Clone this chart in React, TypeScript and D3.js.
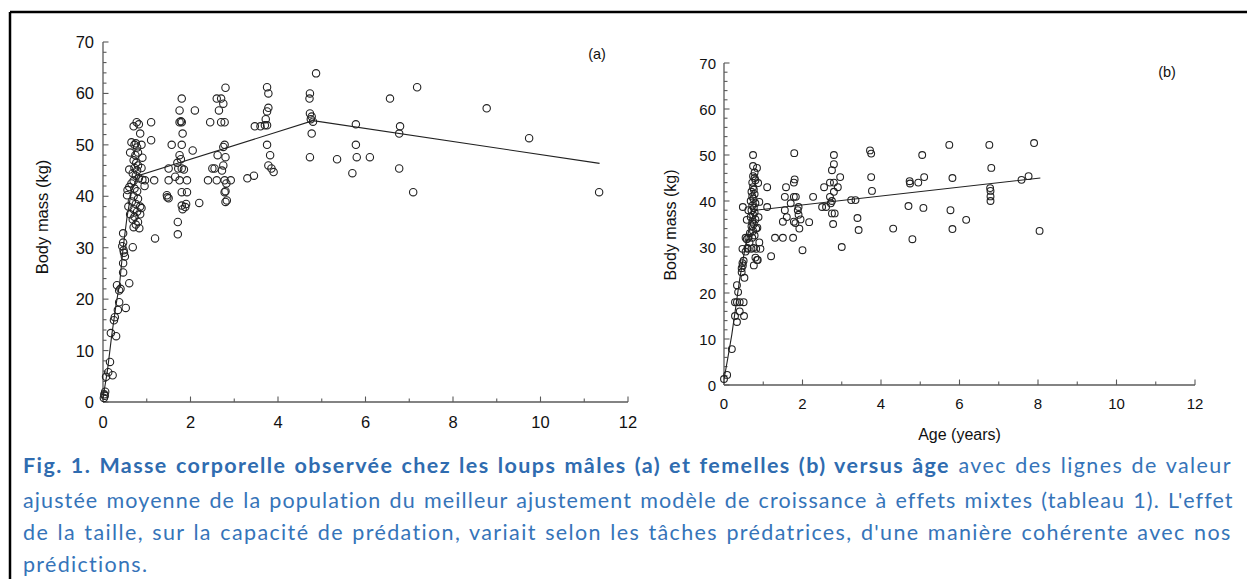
import React, { useMemo } from 'react';
import * as d3 from 'd3';

const W = 1247;
const H = 579;

const yTickValues = [0, 10, 20, 30, 40, 50, 60, 70];
const xTickValues = [0, 2, 4, 6, 8, 10, 12];

// Panel (a): males  [age (years), body mass (kg)]
const malePoints: [number, number][] = [
  [0.02, 0.8], [0.03, 1.5], [0.05, 2], [0.04, 1.2], [0.07, 4.9], [0.12, 5.8], [0.22, 5.2], [0.16, 7.8],
  [0.18, 13.4], [0.3, 12.8], [0.25, 15.9], [0.27, 16.5], [0.34, 17.9], [0.52, 18.3], [0.37, 19.4], [0.37, 21.7],
  [0.32, 22.7], [0.4, 22], [0.6, 23.1], [0.46, 25.2], [0.46, 27], [0.47, 29.5], [0.5, 28.3], [0.46, 31],
  [0.46, 32.8], [0.68, 30.1], [0.44, 30.3], [0.48, 29],
  [0.77, 54.4], [0.7, 53.6], [0.82, 54], [0.85, 52.2], [0.75, 50.3], [0.72, 50], [0.78, 49.5], [0.8, 48.5],
  [0.74, 48], [0.7, 47], [0.76, 46.5], [0.8, 46], [0.72, 45.5], [0.78, 45], [0.6, 45.2], [0.68, 44.5],
  [0.75, 44], [0.82, 43.5], [0.9, 43.2], [0.7, 43], [0.65, 42.5], [0.6, 41.8], [0.72, 41.5], [0.78, 41],
  [0.55, 40.2], [0.7, 40], [0.8, 39.5], [0.66, 39], [0.75, 38.5], [0.58, 38], [0.85, 38], [0.7, 37.5],
  [0.78, 37], [0.62, 36.5], [0.85, 36.5], [0.72, 36], [0.68, 35.5], [0.8, 35], [0.75, 34.5], [0.7, 34],
  [0.83, 33.8], [0.88, 50], [0.9, 47.5], [0.88, 45.5], [0.95, 42], [0.62, 48.5], [0.56, 41.2], [0.65, 50.5],
  [1.1, 54.4], [1.1, 50.9], [0.96, 43.1], [1.17, 43.1], [0.88, 37.7], [1.19, 31.8],
  [1.8, 59], [1.75, 56.7], [2.1, 56.7], [1.75, 54.4], [1.8, 54.4], [1.78, 54.6], [1.82, 52.2], [1.57, 50],
  [1.8, 50], [2.05, 48.9], [1.75, 48], [1.78, 47.2], [1.5, 45.4], [1.72, 45.4], [1.8, 45.4], [1.85, 45.2],
  [1.5, 43.1], [1.75, 43.1], [1.92, 43.1], [1.46, 40.2], [1.5, 39.6], [1.8, 40.8], [1.92, 40.8], [1.8, 38.2],
  [1.82, 37.5], [2.2, 38.7], [1.71, 32.6], [1.71, 35], [1.47, 39.8], [1.88, 37.9], [1.9, 38.5], [1.65, 43.8],
  [1.7, 46.5],
  [2.8, 61.1], [2.6, 59], [2.7, 59], [2.75, 58], [2.65, 56.7], [2.45, 54.4], [2.7, 54.4], [2.78, 54.4],
  [2.78, 50], [2.75, 49.6], [2.62, 48], [2.8, 47.6], [2.75, 46], [2.5, 45.4], [2.55, 45.4], [2.4, 43.1],
  [2.6, 43.1], [2.78, 43.1], [2.92, 43.1], [2.78, 40.8], [2.8, 38.9], [2.83, 39.2], [2.8, 41], [2.82, 42.5],
  [2.72, 45],
  [3.75, 61.2], [3.78, 60], [3.78, 57.2], [3.75, 56.5], [3.72, 55], [3.7, 53.8], [3.47, 53.6], [3.6, 53.6],
  [3.75, 53.8], [3.75, 50], [3.82, 48], [3.78, 46], [3.85, 45.4], [3.9, 44.7], [3.3, 43.5], [3.45, 44],
  [4.87, 63.9], [4.73, 60], [4.72, 59], [4.73, 56.1], [4.77, 55.5], [4.75, 55], [4.8, 54.5], [4.77, 52.2],
  [4.73, 47.6],
  [5.35, 47.2], [5.78, 54], [5.78, 50], [5.8, 47.6], [6.1, 47.6], [5.7, 44.5], [6.56, 59], [6.79, 53.6],
  [6.77, 52.2], [6.77, 45.4], [7.09, 40.8], [7.18, 61.2], [8.77, 57.1], [9.74, 51.3], [11.34, 40.8],
];

const maleFit: [number, number][] = [
  [0, 0.8], [0.1, 6], [0.2, 13], [0.3, 19], [0.38, 23], [0.46, 30], [0.55, 36], [0.65, 41], [0.8, 44],
  [4.8, 54.7], [11.35, 46.4],
];

// Panel (b): females
const femalePoints: [number, number][] = [
  [0, 1.3], [0.08, 2.2], [0.2, 7.8], [0.28, 15], [0.33, 13.7], [0.51, 15], [0.28, 18], [0.33, 18],
  [0.4, 18], [0.5, 18], [0.36, 20.2], [0.33, 21.7], [0.4, 16], [0.45, 25.4], [0.47, 26.5], [0.5, 27],
  [0.52, 23.3], [0.55, 29], [0.6, 29.8], [0.75, 29.8], [0.55, 32], [0.62, 32], [0.8, 27.7], [0.86, 27.2],
  [0.45, 24.5], [0.48, 26],
  [0.74, 50], [0.74, 47.6], [0.84, 47.2], [0.74, 45.4], [0.78, 45], [0.74, 43], [0.87, 43.9], [1.1, 43],
  [0.48, 38.7], [0.58, 35.9], [0.58, 31.7], [0.47, 29.6], [0.6, 29.6], [0.7, 29.6], [0.82, 29.6], [0.93, 29.6],
  [0.84, 27.2], [0.76, 26], [1.2, 28], [1.1, 38.7],
  [0.72, 44], [0.76, 42.5], [0.7, 42], [0.78, 41.5], [0.72, 41], [0.75, 40.5], [0.68, 40], [0.8, 39.5],
  [0.72, 39], [0.76, 38.5], [0.7, 38], [0.78, 37.5], [0.74, 37], [0.68, 36.5], [0.8, 36], [0.72, 35.5],
  [0.76, 35], [0.7, 34.5], [0.82, 34], [0.74, 33.5], [0.66, 33], [0.78, 32.5], [0.72, 32], [0.85, 34.2],
  [0.9, 31], [0.65, 31], [0.88, 36.5], [0.62, 38], [0.9, 39.8], [0.8, 44.5], [0.78, 46.2],
  [1.3, 32], [1.5, 32], [1.76, 32], [2.0, 29.3], [1.79, 50.4], [1.58, 43], [1.8, 44.7], [1.78, 44],
  [1.55, 40.9], [1.78, 40.9], [1.83, 40.9], [1.55, 38], [1.88, 38], [1.9, 38.7], [1.5, 35.5], [1.78, 35.5],
  [1.82, 35.2], [1.9, 37], [1.95, 36], [1.92, 34], [2.17, 35.4], [2.27, 40.9], [1.6, 36.5], [1.7, 39.5],
  [2.8, 50], [2.8, 48], [2.75, 46.7], [2.96, 45.2], [2.7, 44], [2.8, 44], [2.9, 43], [2.55, 43],
  [2.7, 40.9], [2.75, 40], [2.5, 38.7], [2.6, 38.7], [2.75, 37.3], [2.82, 37.3], [2.78, 35], [3.0, 30],
  [3.24, 40.2], [3.35, 40.2], [3.4, 36.3], [3.43, 33.7], [2.8, 42], [2.72, 39.5],
  [3.72, 51], [3.75, 50.3], [3.75, 45.2], [3.77, 42.2],
  [4.31, 34], [4.7, 38.9], [4.73, 44.3], [4.74, 43.8], [4.95, 44], [4.8, 31.7], [5.05, 50], [5.1, 45.2],
  [5.08, 38.5], [5.74, 52.2], [5.82, 45], [5.77, 38], [5.82, 33.9], [6.17, 35.9], [6.76, 52.2], [6.81, 47.2],
  [6.78, 42.8], [6.79, 42.2], [6.79, 41], [6.79, 40], [7.58, 44.6], [7.76, 45.4], [7.9, 52.6], [8.04, 33.5],
];

const femaleFit: [number, number][] = [
  [0, 1.2], [0.1, 6], [0.2, 11], [0.3, 17], [0.4, 23], [0.5, 28], [0.6, 32.5], [0.7, 36], [0.8, 38],
  [8.06, 45],
];

const captionBold = 'Fig. 1. Masse corporelle observée chez les loups mâles (a) et femelles (b) versus âge';
const captionLine1Rest = ' avec des lignes de valeur';
const captionLines = [
  'ajustée moyenne de la population du meilleur ajustement modèle de croissance à effets mixtes (tableau 1). L\'effet',
  'de la taille, sur la capacité de prédation, variait selon les tâches prédatrices, d\'une manière cohérente avec nos',
  'prédictions.',
];

const AXIS_FONT = '"Liberation Sans", Arial, Helvetica, sans-serif';
const CAP_FONT = 'Lato';
const CAP_SIZE = 21.5;
const CAP_WS = 1.5;
const CAP_COLOR = '#3574b9';

interface PanelProps {
  xr: [number, number];
  yr: [number, number];
  points: [number, number][];
  fit: [number, number][];
  fontSize: number;
  titleSize: number;
  r: number;
  tag: string;
  tagX: number;
  tagY: number;
  yLabelX: number;
  yLabelY: number;
  xLabelOffset: number;
  yLabelOffset: number;
  showXTitle?: boolean;
}

function Panel(p: PanelProps) {
  const x = d3.scaleLinear().domain([0, 12]).range(p.xr);
  const y = d3.scaleLinear().domain([0, 70]).range(p.yr);
  const line = d3.line<[number, number]>().x(d => x(d[0])).y(d => y(d[1]));
  const x0 = x(0);
  const y0 = y(0);
  const axisColor = '#5a5a5a';
  const yMinor = d3.range(0, 71, 2);
  const xMinor = d3.range(0, 13, 1);
  return (
    <g>
      <line x1={x0} x2={x0} y1={y0} y2={y(70)} stroke={axisColor} strokeWidth={1.3} />
      <line x1={x0} x2={x(12)} y1={y0} y2={y0} stroke={axisColor} strokeWidth={1.3} />
      {yMinor.map(v => (
        <line key={'ym' + v} x1={x0} x2={x0 + (v % 10 === 0 ? 5.5 : 3.5)} y1={y(v)} y2={y(v)} stroke={axisColor} strokeWidth={1.1} />
      ))}
      {xMinor.map(v => (
        <line key={'xm' + v} x1={x(v)} x2={x(v)} y1={y0} y2={y0 - (v % 2 === 0 ? 5.5 : 3.5)} stroke={axisColor} strokeWidth={1.1} />
      ))}
      {yTickValues.map(v => (
        <text key={'yl' + v} x={x0 - p.yLabelOffset} y={y(v)} textAnchor="end" dominantBaseline="central"
          fontFamily={AXIS_FONT} fontSize={p.fontSize} fill="#111">{v}</text>
      ))}
      {xTickValues.map(v => (
        <text key={'xl' + v} x={x(v)} y={y0 + p.xLabelOffset} textAnchor="middle" dominantBaseline="central"
          fontFamily={AXIS_FONT} fontSize={p.fontSize} fill="#111">{v}</text>
      ))}
      <text transform={`translate(${p.yLabelX},${p.yLabelY}) rotate(-90)`} textAnchor="middle"
        dominantBaseline="central" fontFamily={AXIS_FONT} fontSize={p.titleSize} fill="#111">Body mass (kg)</text>
      {p.showXTitle && (
        <text x={(x(0) + x(12)) / 2} y={y0 + 49} textAnchor="middle" dominantBaseline="central"
          fontFamily={AXIS_FONT} fontSize={p.titleSize} fill="#111">Age (years)</text>
      )}
      <text x={p.tagX} y={p.tagY} textAnchor="middle" dominantBaseline="central" fontFamily={AXIS_FONT}
        fontSize={14.5} fill="#111">{p.tag}</text>
      <path d={line(p.fit) || ''} fill="none" stroke="#222" strokeWidth={1.1} />
      {p.points.map((d, i) => (
        <circle key={i} cx={x(d[0])} cy={y(d[1])} r={p.r} fill="none" stroke="#222" strokeWidth={1.1} />
      ))}
    </g>
  );
}

function measure(text: string, weight: number): number {
  const c = document.createElement('canvas').getContext('2d');
  if (!c) return text.length * CAP_SIZE * 0.5;
  c.font = `${weight} ${CAP_SIZE}px ${CAP_FONT}`;
  return c.measureText(text).width;
}

function countSpaces(t: string) {
  return t.split(' ').length - 1;
}

function Caption() {
  const left = 23;
  const right = 1233;
  const target = right - left;
  const info = useMemo(() => {
    const full1 = captionBold + captionLine1Rest;
    const nat1 = measure(captionBold, 700) + measure(captionLine1Rest, 400);
    const ls1 = (target - nat1 - CAP_WS * countSpaces(full1)) / full1.length;
    const lss = captionLines.slice(0, 2).map(t => (target - measure(t, 400) - CAP_WS * countSpaces(t)) / t.length);
    const avg = (ls1 + lss[0] + lss[1]) / 3;
    return { ls: [ls1, lss[0], lss[1], avg] };
  }, []);
  const baselines = [473, 508, 540, 572];
  return (
    <g fontFamily={CAP_FONT} fontSize={CAP_SIZE} fill={CAP_COLOR}>
      <text x={left} y={baselines[0]} letterSpacing={info.ls[0]} style={{ wordSpacing: CAP_WS + 'px', whiteSpace: 'pre' }}>
        <tspan fontWeight={700} fill="#2f6cb0">{captionBold}</tspan>
        <tspan fontWeight={400}>{captionLine1Rest}</tspan>
      </text>
      {captionLines.map((t, i) => (
        <text key={i} x={left} y={baselines[i + 1]} fontWeight={400} letterSpacing={info.ls[i + 1]}
          style={{ wordSpacing: CAP_WS + 'px', whiteSpace: 'pre' }}>{t}</text>
      ))}
    </g>
  );
}

export default function App() {
  return (
    <svg width={W} height={H} viewBox={`0 0 ${W} ${H}`}
      style={{ position: 'absolute', left: 0, top: 0, background: '#fff' }}>
      <rect x={0} y={0} width={W} height={H} fill="#fff" />
      <line x1={10} x2={W} y1={12} y2={12} stroke="#000" strokeWidth={2.5} />
      <line x1={10} x2={10} y1={12} y2={H} stroke="#000" strokeWidth={2.5} />
      <Panel xr={[103, 628]} yr={[402, 42]} points={malePoints} fit={maleFit} fontSize={16.5} titleSize={16.5} r={3.7}
        tag="(a)" tagX={597} tagY={54} yLabelX={42} yLabelY={217} xLabelOffset={20} yLabelOffset={9} />
      <Panel xr={[724, 1195]} yr={[385, 63]} points={femalePoints} fit={femaleFit} fontSize={15} titleSize={16} r={3.4}
        tag="(b)" tagX={1167} tagY={72} yLabelX={670} yLabelY={225} xLabelOffset={18} yLabelOffset={8} showXTitle />
      <Caption />
    </svg>
  );
}
